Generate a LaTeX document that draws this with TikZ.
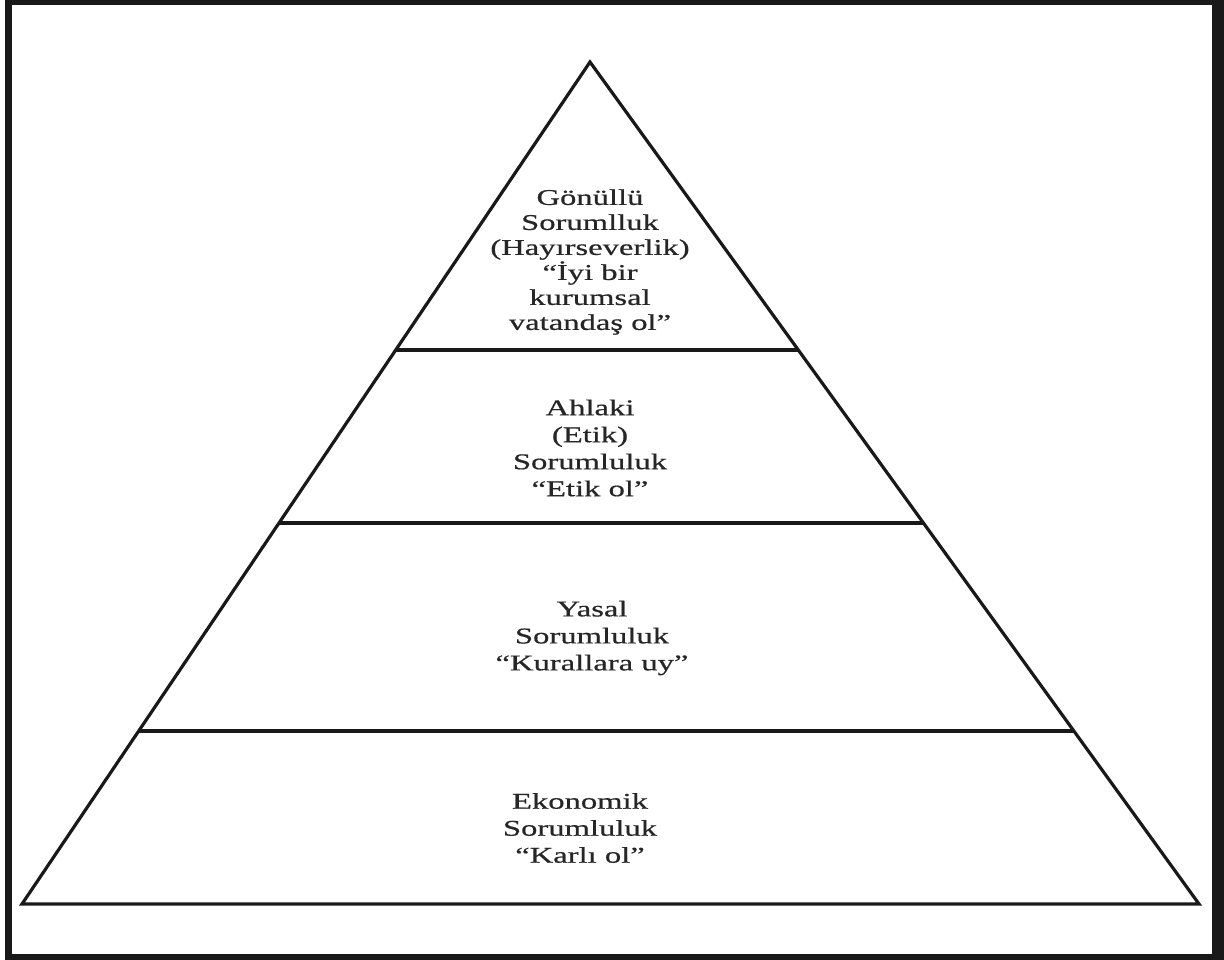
\documentclass[tikz,border=0pt]{standalone}
\usepackage{fontspec}
\setmainfont[FakeStretch=1.45,FakeBold=0.6]{Liberation Serif}
\usetikzlibrary{calc}
\begin{document}
\begin{tikzpicture}[x=1pt,y=-1pt,
  edge/.style={line width=3.2pt, line join=miter, color=black!90},
  tier/.style={align=center, text=black!85, inner sep=0pt},
  tight/.style={tier, font=\fontsize{22.5}{25}\selectfont},
  loose/.style={tier, font=\fontsize{22.5}{27}\selectfont}]
  % frame
  \fill[black!90] (5,0) rectangle (1224,960);
  \fill[white] (12,5) rectangle (1212,954);
  \useasboundingbox (0,0) rectangle (1224,960);
  % pyramid outline
  \coordinate (A) at (590,62);
  \coordinate (L) at (22,904);
  \coordinate (R) at (1199,904);
  \draw[edge] (A) -- (L) -- (R) -- cycle;
  % tier boundaries
  \coordinate (l1) at ($(A)!0.342!(L)$);  \coordinate (r1) at ($(A)!0.342!(R)$);
  \coordinate (l2) at ($(A)!0.5475!(L)$); \coordinate (r2) at ($(A)!0.5475!(R)$);
  \coordinate (l3) at ($(A)!0.7945!(L)$); \coordinate (r3) at ($(A)!0.7945!(R)$);
  \draw[edge] (l1) -- (r1);
  \draw[edge] (l2) -- (r2);
  \draw[edge] (l3) -- (r3);
  % tier labels
  \node[tight] (gonullu) at (590,262) {Gönüllü\\Sorumlluk\\(Hayırseverlik)\\“İyi bir\\kurumsal\\vatandaş ol”};
  \node[loose] (ahlaki) at (590,448) {Ahlaki\\(Etik)\\Sorumluluk\\“Etik ol”};
  \node[loose] (yasal) at (592,638) {Yasal\\Sorumluluk\\“Kurallara uy”};
  \node[loose] (ekonomik) at (580,828) {Ekonomik\\Sorumluluk\\“Karlı ol”};
\end{tikzpicture}
\end{document}
